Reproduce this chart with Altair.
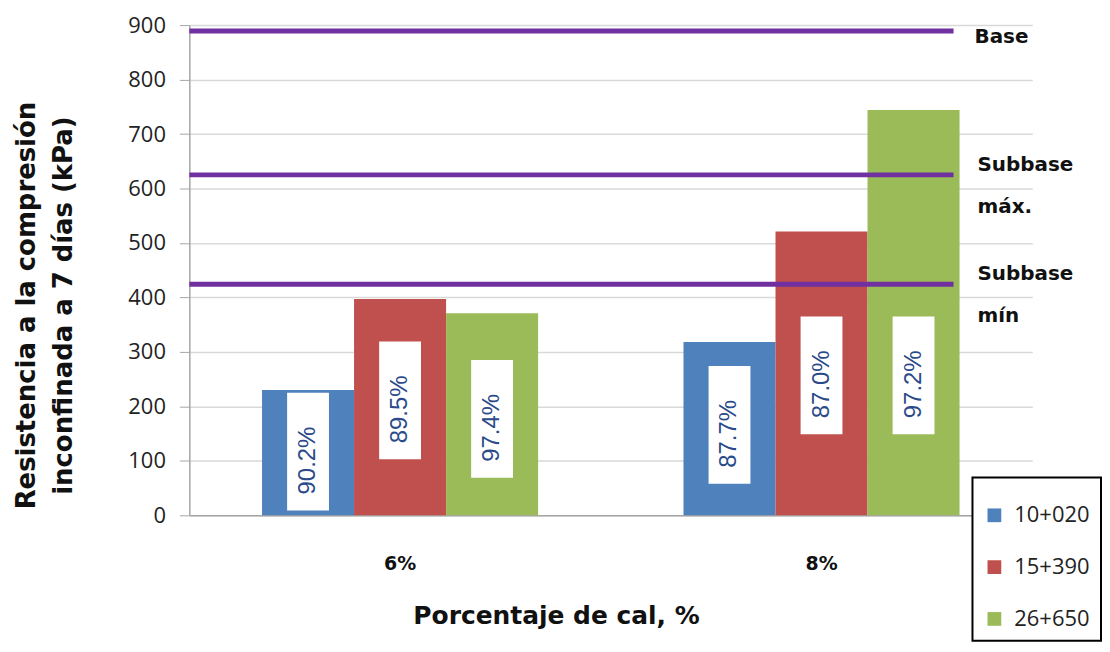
import altair as alt
import pandas as pd

categories = ["6%", "8%"]
series = ["10+020", "15+390", "26+650"]
values_6 = [230, 397, 371]
values_8 = [318, 521, 744]
labels_6 = ["90.2%", "89.5%", "97.4%"]
labels_8 = ["87.7%", "87.0%", "97.2%"]
label_mid_6 = [117, 211, 177]
label_mid_8 = [166, 257, 257]
ref_names = ["Base", "Subbase\nmáx.", "Subbase\nmín"]
ref_values = [889, 625, 424]
colors = ["#4F81BD", "#C0504D", "#9BBB59"]

rows = []
for cat, vals, labs, mids in [("6%", values_6, labels_6, label_mid_6),
                              ("8%", values_8, labels_8, label_mid_8)]:
    for s, v, l, m in zip(series, vals, labs, mids):
        rows.append({"pct": cat, "series": s, "value": v, "label": l, "mid": m})
df = pd.DataFrame(rows)
ref_df = pd.DataFrame({"name": ref_names, "ref": ref_values})

BOLD_FONT = "DejaVu Sans"
REG_FONT = "Open Sans"

x_enc = alt.X(
    "pct:N", sort=categories,
    scale=alt.Scale(paddingInner=0.345, paddingOuter=0.1725),
    axis=alt.Axis(
        title="Porcentaje de cal, %", labelAngle=0, ticks=False,
        domainColor="#A6A6A6", domainWidth=1.5, grid=False,
        labelFont=BOLD_FONT, labelFontWeight="bold", labelFontSize=19,
        labelColor="#111111", labelPadding=39,
        titleFont=BOLD_FONT, titleFontWeight="bold", titleFontSize=25,
        titleColor="#111111", titlePadding=31, titleX=368,
    ),
)
xoff = alt.XOffset("series:N", sort=series, scale=alt.Scale(paddingInner=0, paddingOuter=0))
y_enc = alt.Y(
    "value:Q", scale=alt.Scale(domain=[0, 900], nice=False),
    axis=alt.Axis(
        values=list(range(0, 1000, 100)),
        title=["Resistencia a la compresión", "inconfinada a 7 días (kPa)"],
        titleFont=BOLD_FONT, titleFontWeight="bold", titleFontSize=26,
        titleColor="#111111", titlePadding=52, titleLineHeight=37,
        titleY=281,
        labelFont=REG_FONT, labelFontSize=22, labelColor="#222222",
        labelPadding=14, tickSize=10, tickColor="#A6A6A6",
        domainColor="#A6A6A6", domainWidth=1.5,
        gridColor="#D9D9D9", gridWidth=1.5,
    ),
)

bars = alt.Chart(df).mark_bar().encode(
    x=x_enc, xOffset=xoff, y=y_enc,
    color=alt.Color(
        "series:N", sort=series,
        scale=alt.Scale(domain=series, range=colors),
        legend=alt.Legend(
            title=" ", titleFontSize=10, titlePadding=6,
            orient="none", legendX=786, legendY=454,
            fillColor="white", strokeColor="#000000",
            padding=11, symbolType="square", symbolSize=190,
            symbolStrokeWidth=0, labelFont=REG_FONT, labelFontSize=22,
            labelColor="#222222", labelOffset=9,
        ),
    ),
)

boxes = alt.Chart(df).transform_calculate(
    lo="datum.mid - 108", hi="datum.mid + 108"
).mark_bar(width=42, color="white").encode(
    x=alt.X("pct:N", sort=categories), xOffset=alt.XOffset("series:N", sort=series),
    y=alt.Y("lo:Q"), y2="hi:Q",
)

texts = alt.Chart(df).mark_text(
    angle=270, font="Liberation Sans", fontSize=24, color="#2A4A8A",
    align="center", baseline="middle", dx=-9,
).encode(
    x=alt.X("pct:N", sort=categories), xOffset=alt.XOffset("series:N", sort=series),
    y=alt.Y("mid:Q"), text="label:N",
)

rules = alt.Chart(ref_df).mark_rule(color="#7030A0", strokeWidth=5).encode(
    y=alt.Y("ref:Q"), x=alt.value(0), x2=alt.value(767),
)

ann_single = alt.Chart(ref_df).transform_filter(
    "indexof(datum.name, '\\n') < 0"
).mark_text(
    align="left", baseline="middle", font=BOLD_FONT, fontWeight="bold",
    fontSize=20, color="#111111", dy=6,
).encode(
    y=alt.Y("ref:Q"), x=alt.value(788), text="name:N",
)

ann_multi = alt.Chart(ref_df).transform_filter(
    "indexof(datum.name, '\\n') >= 0"
).mark_text(
    align="left", baseline="middle", font=BOLD_FONT, fontWeight="bold",
    fontSize=20, color="#111111", lineBreak="\n", lineHeight=42, dy=-10,
).encode(
    y=alt.Y("ref:Q"), x=alt.value(791), text="name:N",
)

chart = alt.layer(bars, boxes, texts, rules, ann_single, ann_multi).properties(
    width=846, height=492,
    padding={"left": 5, "top": 5, "right": 0, "bottom": 0},
).configure_view(stroke=None).configure_legend(
    strokeWidth=2, rowPadding=30,
)

chart.save("out.html", embed_options={"renderer": "svg", "actions": False})
